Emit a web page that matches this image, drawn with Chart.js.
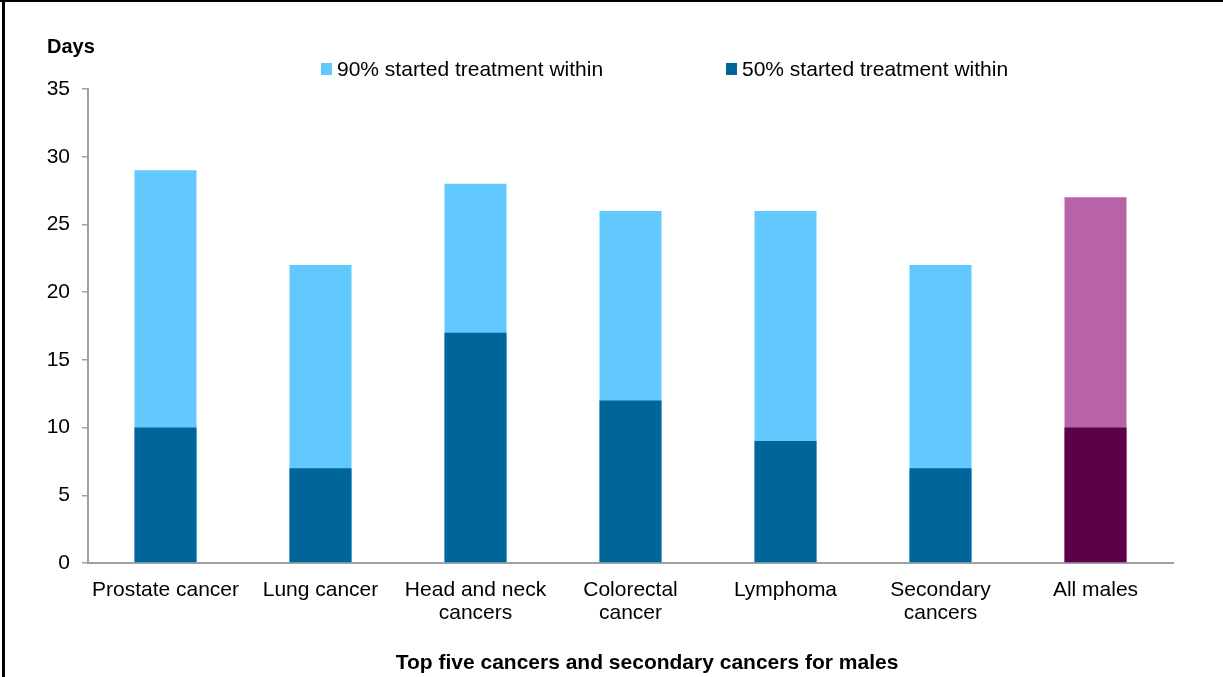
<!DOCTYPE html>
<html>
<head>
<meta charset="utf-8">
<script src="https://cdn.jsdelivr.net/npm/chart.js@4"></script>
<style>
  html, body { margin: 0; padding: 0; background: #fff; }
  #wrap { position: relative; width: 1223px; height: 677px; }
</style>
</head>
<body>
<div id="wrap"><canvas id="chart" width="1223" height="677"></canvas></div>
<script>
// Данные графика
const categories = [
  'Prostate cancer',
  'Lung cancer',
  ['Head and neck', 'cancers'],
  ['Colorectal', 'cancer'],
  'Lymphoma',
  ['Secondary', 'cancers'],
  'All males'
];
const within90 = [29, 22, 28, 26, 26, 22, 27];
const within50 = [10, 7, 17, 12, 9, 7, 10];
const yTicks = [0, 5, 10, 15, 20, 25, 30, 35];

const seriesLabels = ['90% started treatment within', '50% started treatment within'];
const yTitle = 'Days';
const xTitle = 'Top five cancers and secondary cancers for males';

// Цвета: последний столбец (все мужчины) выделен фиолетовым
const light = categories.map((c, i) => i === categories.length - 1 ? '#B862A9' : '#61C9FE');
const dark = categories.map((c, i) => i === categories.length - 1 ? '#5C004A' : '#006699');

const FONT = '"Liberation Sans", Arial, sans-serif';

// Рамка, подпись оси Y, легенда и подпись оси X
const decorPlugin = {
  id: 'decor',
  afterDraw(chart) {
    const ctx = chart.ctx;
    ctx.save();
    ctx.fillStyle = '#000';
    ctx.fillRect(0, 0, 1223, 2);
    ctx.fillRect(2, 0, 3, 677);

    ctx.font = 'bold 20px ' + FONT;
    ctx.textBaseline = 'alphabetic';
    ctx.textAlign = 'left';
    ctx.fillText(yTitle, 47, 53);

    // легенда
    const legendX = [321, 726];
    chart.data.datasets.forEach((ds, i) => {
      ctx.fillStyle = ds.backgroundColor[0];
      ctx.fillRect(legendX[i], 63, 11, 12);
      ctx.fillStyle = '#000';
      ctx.font = '21px ' + FONT;
      ctx.fillText(ds.label, legendX[i] + 16, 76);
    });

    ctx.font = 'bold 21px ' + FONT;
    ctx.textAlign = 'center';
    ctx.fillText(xTitle, 647, 669);
    ctx.restore();
  }
};

new Chart(document.getElementById('chart'), {
  type: 'bar',
  data: {
    labels: categories,
    datasets: [
      {
        label: seriesLabels[0],
        data: within90,
        backgroundColor: light,
        grouped: false,
        order: 2
      },
      {
        label: seriesLabels[1],
        data: within50,
        backgroundColor: dark,
        grouped: false,
        order: 1
      }
    ]
  },
  options: {
    responsive: false,
    animation: false,
    layout: { padding: { left: 0, right: 50, top: 89, bottom: 34 } },
    categoryPercentage: 1,
    barPercentage: 0.4,
    plugins: {
      legend: { display: false },
      tooltip: { enabled: false }
    },
    scales: {
      x: {
        grid: { display: false },
        border: { display: true, color: '#A0A0A0', width: 2 },
        ticks: {
          color: '#000',
          padding: 8,
          maxRotation: 0,
          autoSkip: false,
          font: { family: FONT, size: 21, lineHeight: 1.1 }
        },
        afterFit(s) { s.height = 80; }
      },
      y: {
        min: 0,
        max: 35,
        afterBuildTicks(s) { s.ticks = yTicks.map(v => ({ value: v })); },
        grid: { drawOnChartArea: false, tickLength: 6, color: '#A0A0A0', lineWidth: 1.5 },
        border: { display: true, color: '#A0A0A0', width: 2 },
        ticks: {
          color: '#000',
          padding: 12,
          font: { family: FONT, size: 21 }
        },
        afterFit(s) { s.width = 88; }
      }
    }
  },
  plugins: [decorPlugin]
});
</script>
</body>
</html>
